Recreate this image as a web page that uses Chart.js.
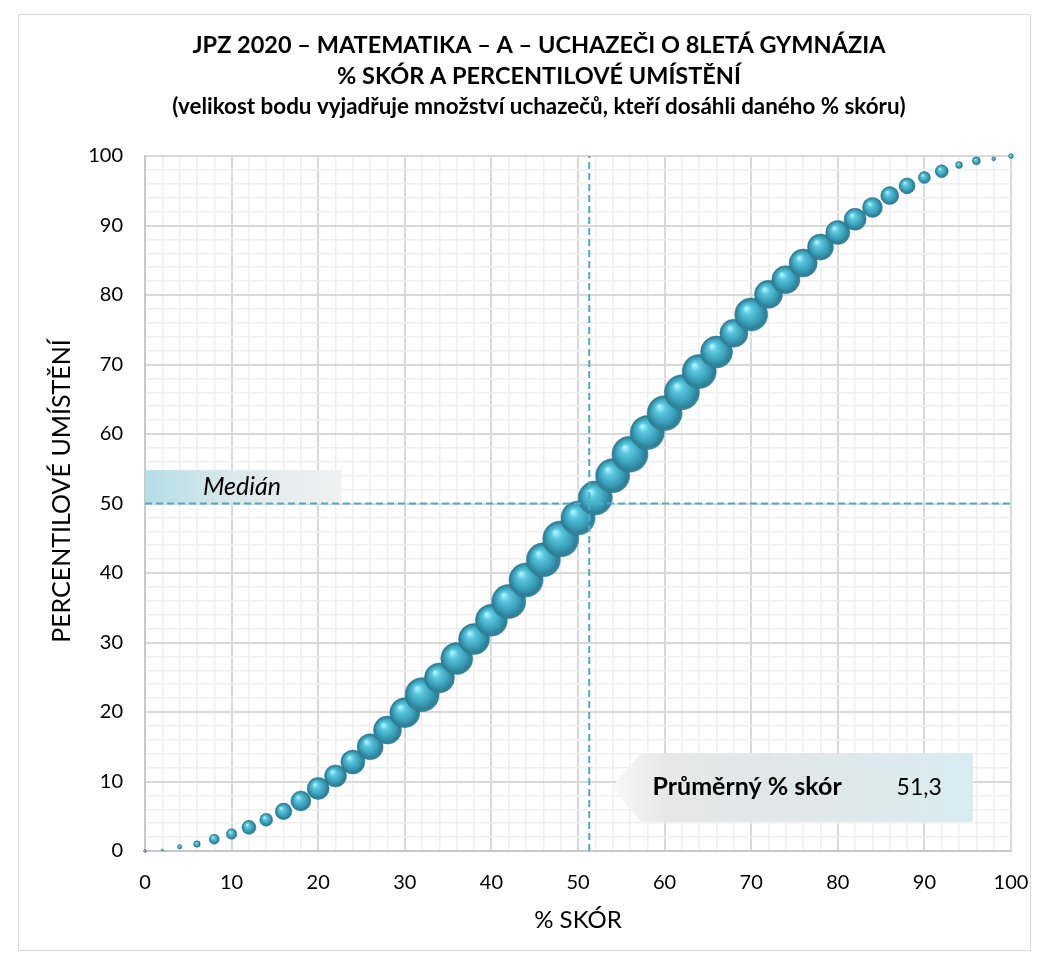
<!DOCTYPE html>
<html>
<head>
<meta charset="utf-8">
<script src="https://cdn.jsdelivr.net/npm/chart.js@4.4.0/dist/chart.umd.min.js"></script>
<style>
  html, body { margin: 0; padding: 0; background: #fff; }
  #wrap { position: relative; width: 1038px; height: 963px; }
  #frame { position: absolute; left: 18px; top: 14px; width: 1011px; height: 935px; border: 1px solid #d9d9d9; pointer-events: none; }
</style>
</head>
<body>
<div id="wrap">
  <canvas id="chart" width="1038" height="963"></canvas>
  <div id="frame"></div>
</div>
<script>
// % skór (x)
const skore = [0, 2, 4, 6, 8, 10, 12, 14, 16, 18, 20, 22, 24, 26, 28, 30, 32, 34, 36, 38, 40,
  42, 44, 46, 48, 50, 52, 54, 56, 58, 60, 62, 64, 66, 68, 70, 72, 74, 76, 78, 80,
  82, 84, 86, 88, 90, 92, 94, 96, 98, 100];
// percentilové umístění (y)
const percentil = [0, 0.15, 0.6, 1.0, 1.7, 2.45, 3.4, 4.5, 5.7, 7.2, 9.0, 10.8, 12.8, 15.0, 17.4, 19.9, 22.5, 24.9, 27.7, 30.5, 33.2,
  35.9, 39.0, 41.9, 44.9, 47.9, 50.8, 54.0, 57.1, 60.2, 63.0, 66.0, 69.0, 71.8, 74.5, 77.2, 80.1, 82.2, 84.6, 86.9, 89.0,
  90.9, 92.6, 94.3, 95.7, 96.9, 97.8, 98.7, 99.3, 99.6, 100];
// podíl uchazečů (%) s daným skórem -> velikost bodu
const podil = [0.02, 0.01, 0.05, 0.11, 0.25, 0.28, 0.49, 0.42, 0.69, 1.0, 1.21, 1.21, 1.44, 1.69, 1.96, 2.25, 2.89, 2.25, 2.56, 2.4, 2.56,
  2.89, 2.89, 2.89, 3.24, 2.89, 2.89, 2.89, 3.24, 2.89, 3.06, 3.06, 2.89, 2.56, 1.96, 2.72, 1.96, 1.96, 1.96, 1.69, 1.44,
  1.21, 1.0, 0.81, 0.64, 0.36, 0.42, 0.12, 0.16, 0.04, 0.06];

const median = 50;
const prumer = 51.3;

const FONT = 'Lato';
const accent = '#4bacc6';

const body = skore.map((s, i) => ({ x: s, y: percentil[i], r: 10 * Math.sqrt(podil[i]) }));

function koule(ctx) {
  if (ctx.type !== 'data') return '#3fa9c4';
  const chart = ctx.chart;
  const raw = ctx.raw;
  const cx = chart.scales.x.getPixelForValue(raw.x);
  const cy = chart.scales.y.getPixelForValue(raw.y);
  if (!Number.isFinite(cx) || !Number.isFinite(cy)) return '#3fa9c4';
  const r = Math.max(raw.r, 0.5);
  const g = chart.ctx.createRadialGradient(cx - r * 0.3, cy - r * 0.38, r * 0.05, cx, cy, r);
  g.addColorStop(0, '#aaf3ff');
  g.addColorStop(0.25, '#5bc7df');
  g.addColorStop(0.65, '#3aa0ba');
  g.addColorStop(0.9, '#2c7f97');
  g.addColorStop(1, '#3b8ea4');
  return g;
}

// popisky "Medián" a "Průměrný % skór"
const popisky = {
  id: 'popisky',
  beforeDatasetsDraw(chart) {
    const { ctx, scales: { x, y } } = chart;
    ctx.save();

    // Medián
    const mx0 = x.getPixelForValue(0), mx1 = x.getPixelForValue(22.7);
    const my0 = y.getPixelForValue(54.8), my1 = y.getPixelForValue(median);
    let g = ctx.createLinearGradient(mx0, 0, mx1, 0);
    g.addColorStop(0, '#b3dde7');
    g.addColorStop(0.45, '#dbe8ec');
    g.addColorStop(1, '#f1f1f1');
    ctx.fillStyle = g;
    ctx.fillRect(mx0, my0, mx1 - mx0, my1 - my0);
    ctx.fillStyle = '#000';
    ctx.font = 'italic 25px ' + FONT;
    ctx.textAlign = 'center';
    ctx.textBaseline = 'middle';
    ctx.fillText('Medián', x.getPixelForValue(11.2), (my0 + my1) / 2);

    // Průměrný % skór
    const tip = x.getPixelForValue(53.9), bx = x.getPixelForValue(57.3), rx = x.getPixelForValue(95.6);
    const ty = y.getPixelForValue(14.1), by = y.getPixelForValue(4.2), cy = (ty + by) / 2;
    g = ctx.createLinearGradient(tip, 0, rx, 0);
    g.addColorStop(0, '#f8f8f8');
    g.addColorStop(0.15, '#e7e7e7');
    g.addColorStop(0.4, '#e3e5e6');
    g.addColorStop(1, '#d8ecf2');
    ctx.fillStyle = g;
    ctx.beginPath();
    ctx.moveTo(tip, cy);
    ctx.lineTo(bx, ty);
    ctx.lineTo(rx, ty);
    ctx.lineTo(rx, by);
    ctx.lineTo(bx, by);
    ctx.closePath();
    ctx.fill();
    ctx.fillStyle = '#000';
    ctx.textAlign = 'left';
    ctx.font = 'bold 25px ' + FONT;
    ctx.fillText('Průměrný % skór', x.getPixelForValue(58.6), cy);
    ctx.textAlign = 'center';
    ctx.font = '23px ' + FONT;
    ctx.fillText(prumer.toLocaleString('cs-CZ', { minimumFractionDigits: 1 }), x.getPixelForValue(89.4), cy);
    ctx.restore();
  }
};

const gridColor = c => (c.tick && c.tick.value % 10 === 0) ? '#d9d9d9' : '#efefef';
const gridWidth = c => (c.tick && c.tick.value % 10 === 0) ? 2 : 1.5;

new Chart(document.getElementById('chart'), {
  type: 'bubble',
  data: {
    datasets: [
      {
        type: 'line',
        data: [{ x: 0, y: median }, { x: 100, y: median }],
        borderColor: accent,
        borderWidth: 2,
        borderDash: [7, 4],
        pointRadius: 0,
        order: 0
      },
      {
        type: 'line',
        data: [{ x: prumer, y: 0 }, { x: prumer, y: 100 }],
        borderColor: accent,
        borderWidth: 2,
        borderDash: [7, 4],
        pointRadius: 0,
        order: 0
      },
      {
        label: 'Uchazeči',
        data: body,
        backgroundColor: koule,
        borderColor: 'rgba(30,95,115,0.55)',
        borderWidth: 0.8,
        clip: false,
        order: 1
      }
    ]
  },
  plugins: [popisky],
  options: {
    responsive: false,
    animation: false,
    events: [],
    layout: { autoPadding: false, padding: { top: 30, left: 67, right: 27, bottom: 0 } },
    plugins: {
      legend: { display: false },
      tooltip: { enabled: false },
      title: {
        display: true,
        text: ['JPZ 2020 – MATEMATIKA – A – UCHAZEČI O 8LETÁ GYMNÁZIA', '% SKÓR A PERCENTILOVÉ UMÍSTĚNÍ'],
        color: '#000',
        font: { family: FONT, size: 23.5, weight: 'bold', lineHeight: '31px' },
        padding: { top: 0, bottom: 0 }
      },
      subtitle: {
        display: true,
        text: '(velikost bodu vyjadřuje množství uchazečů, kteří dosáhli daného % skóru)',
        color: '#000',
        font: { family: FONT, size: 22.4, weight: 'bold', lineHeight: '26px' },
        padding: { top: 2, bottom: 36 }
      }
    },
    scales: {
      x: {
        type: 'linear',
        min: 0,
        max: 100,
        afterFit: s => { s.height = 112; s.paddingRight = 0; },
        grid: { color: gridColor, lineWidth: gridWidth, drawTicks: false },
        border: { color: '#c8c8c8', width: 2 },
        ticks: {
          stepSize: 2,
          autoSkip: false,
          maxRotation: 0,
          padding: 20,
          color: '#000',
          font: { family: FONT, size: 20 },
          callback: v => (v % 10 === 0 ? v : '')
        },
        title: {
          display: true,
          text: '% SKÓR',
          color: '#000',
          font: { family: FONT, size: 24 },
          padding: { top: 0, bottom: 28 }
        }
      },
      y: {
        type: 'linear',
        min: 0,
        max: 100,
        afterFit: s => { s.width = 78; },
        grid: { color: gridColor, lineWidth: gridWidth, drawTicks: false },
        border: { color: '#c8c8c8', width: 2 },
        ticks: {
          stepSize: 2,
          autoSkip: false,
          padding: 22,
          color: '#000',
          font: { family: FONT, size: 20 },
          callback: v => (v % 10 === 0 ? v : '')
        },
        title: {
          display: true,
          text: '\u2002\u2002PERCENTILOVÉ UMÍSTĚNÍ',
          color: '#000',
          font: { family: FONT, size: 25 },
          padding: { top: -20, bottom: 0 }
        }
      }
    }
  }
});
</script>
</body>
</html>
